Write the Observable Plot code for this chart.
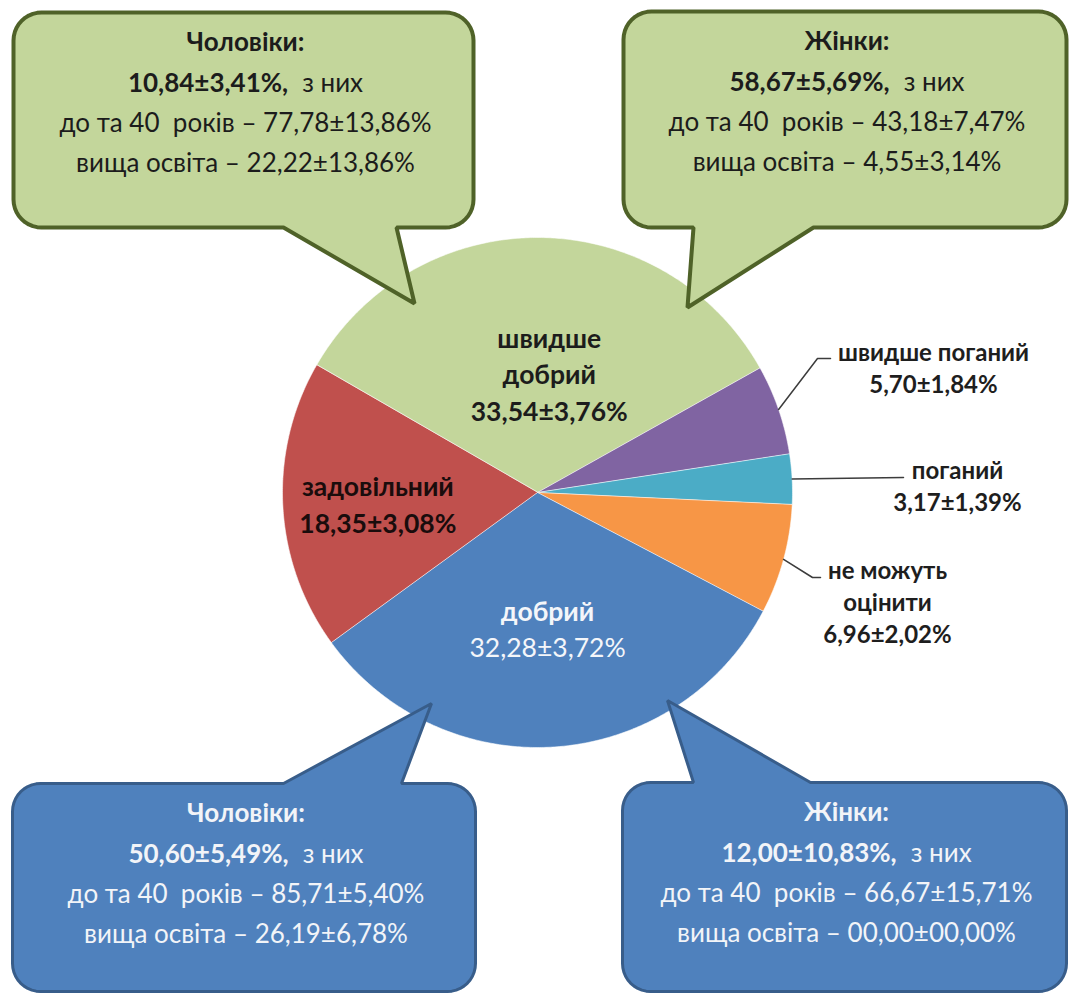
<!DOCTYPE html>
<html>
<head>
<meta charset="utf-8">
<script src="https://cdn.jsdelivr.net/npm/d3@7"></script>
<script src="https://cdn.jsdelivr.net/npm/@observablehq/plot@0.6"></script>
<style>
  html, body { margin: 0; padding: 0; background: #ffffff; }
  #chart svg { display: block; }
</style>
</head>
<body>
<div id="chart"></div>
<script>
// ---------------- DATA ----------------
const categories = ["швидше добрий", "швидше поганий", "поганий", "не можуть оцінити", "добрий", "задовільний"];
const shares = [33.54, 5.70, 3.17, 6.96, 32.28, 18.35];
const shareErrors = [3.76, 1.84, 1.39, 2.02, 3.72, 3.08];

const calloutGroups = ["Чоловіки:", "Жінки:", "Чоловіки:", "Жінки:"];
const calloutSlices = ["швидше добрий", "швидше добрий", "добрий", "добрий"];
const groupShares = [10.84, 58.67, 50.60, 12.00];
const groupShareErrors = [3.41, 5.69, 5.49, 10.83];
const under40Shares = [77.78, 43.18, 85.71, 66.67];
const under40Errors = [13.86, 7.47, 5.40, 15.71];
const higherEduShares = [22.22, 4.55, 26.19, 0.00];
const higherEduErrors = [13.86, 3.14, 6.78, 0.00];
const phrases = { ofThem: "з них", under40: "до та 40  років", higherEdu: "вища освіта" };

// ---------------- LAYOUT / STYLE ----------------
const W = 1070, H = 996;
const FONT = "Lato, 'Open Sans', 'Noto Sans', sans-serif";
const pie = { cx: 537, cy: 492, r: 255, start: -Math.PI / 3 };
const sliceColors = ["#c3d69b", "#8064a2", "#4bacc6", "#f79646", "#4f81bd", "#c0504d"];
const sliceTextColors = ["#1c1c1c", null, null, null, "#f4f6fa", "#1a0c0c"];
const labelWrap = [true, false, false, true, false, false];
// inside labels: radius factor + shift
const insideLabel = [
  { k: 0.457, dx: 11, dy: 0 }, null, null, null,
  { k: 0.543, dx: 0, dy: 0 },
  { k: 0.627, dx: 0, dy: 5 }
];
// outside labels: elbow, end of leader, text centre and first baseline
const outsideLabel = [
  null,
  { elbow: [817, 358], end: [830, 358], tx: 933, ty: 360 },
  { elbow: [903, 477], end: [903, 477], tx: 957, ty: 478 },
  { elbow: [812, 577], end: [820, 577], tx: 887, ty: 578 },
  null, null
];
const callBoxes = [
  { x0: 13, y0: 12, x1: 473, y1: 227, r: 28, side: "bottom", b0: 283, b1: 396, tip: [414, 303], fill: "#c3d69b", stroke: "#4f6228", sw: 4, text: "#1c1c1c" },
  { x0: 623, y0: 11, x1: 1066, y1: 227, r: 28, side: "bottom", b0: 693, b1: 813, tip: [687, 307], fill: "#c3d69b", stroke: "#4f6228", sw: 4, text: "#1c1c1c" },
  { x0: 12, y0: 783, x1: 475, y1: 991, r: 28, side: "top", b0: 283, b1: 401, tip: [431, 703], fill: "#4f81bd", stroke: "#385d8a", sw: 3, text: "#f2f4f8" },
  { x0: 622, y0: 782, x1: 1066, y1: 991, r: 28, side: "top", b0: 693, b1: 810, tip: [667, 700], fill: "#4f81bd", stroke: "#385d8a", sw: 3, text: "#f2f4f8" }
];
const calloutBaselines = [38, 79, 119, 159];
const CALL_SIZE = 26, IN_SIZE = 26.5, OUT_SIZE = 24, IN_LH = 36.5, OUT_LH = 32;

// ---------------- HELPERS ----------------
const fmt = v => v === 0 ? "00,00" : v.toFixed(2).replace(".", ",");
const pm = (v, e) => `${fmt(v)}±${fmt(e)}%`;
const ctx = document.createElement("canvas").getContext("2d");
function textWidth(s, size, weight) { ctx.font = `${weight} ${size}px ${FONT}`; return ctx.measureText(s).width; }
const polar = (a, rad) => [pie.cx + rad * Math.sin(a), pie.cy - rad * Math.cos(a)];
const wrapName = s => { const k = s.lastIndexOf(" "); return [s.slice(0, k), s.slice(k + 1)]; };

// ---------------- PIE GEOMETRY ----------------
const arcs = d3.pie().sort(null).startAngle(pie.start).endAngle(pie.start + 2 * Math.PI)(shares);
const slicePts = arcs.flatMap((a, i) => {
  const pts = [{ x: pie.cx, y: pie.cy, k: categories[i], c: sliceColors[i] }];
  const n = Math.max(4, Math.ceil((a.endAngle - a.startAngle) / (Math.PI / 360)));
  for (let j = 0; j <= n; ++j) {
    const t = a.startAngle + (a.endAngle - a.startAngle) * j / n;
    const [x, y] = polar(t, pie.r);
    pts.push({ x, y, k: categories[i], c: sliceColors[i] });
  }
  return pts;
});

// ---------------- CALLOUT GEOMETRY ----------------
function calloutOutline(b, id) {
  const pts = [];
  const arc = (cx, cy, a0, a1) => {
    for (let j = 0; j <= 10; ++j) {
      const t = (a0 + (a1 - a0) * j / 10) * Math.PI / 180;
      pts.push([cx + b.r * Math.cos(t), cy + b.r * Math.sin(t)]);
    }
  };
  pts.push([b.x0 + b.r, b.y0]);
  if (b.side === "top") { pts.push([b.b0, b.y0], b.tip, [b.b1, b.y0]); }
  arc(b.x1 - b.r, b.y0 + b.r, -90, 0);
  arc(b.x1 - b.r, b.y1 - b.r, 0, 90);
  if (b.side === "bottom") { pts.push([b.b1, b.y1], b.tip, [b.b0, b.y1]); }
  arc(b.x0 + b.r, b.y1 - b.r, 90, 180);
  arc(b.x0 + b.r, b.y0 + b.r, 180, 270);
  return pts.map(([x, y]) => ({ x, y, id }));
}

// ---------------- TEXT ITEMS ----------------
const texts = [];
callBoxes.forEach((b, i) => {
  const cx = (b.x0 + b.x1) / 2 + 2;
  const ys = calloutBaselines.map(d => b.y0 + d);
  texts.push({ x: cx, y: ys[0], text: calloutGroups[i], fill: b.text, weight: "bold", size: CALL_SIZE, anchor: "middle" });
  const boldPart = pm(groupShares[i], groupShareErrors[i]) + ",";
  const wb = textWidth(boldPart, CALL_SIZE, "bold");
  const wr = textWidth(phrases.ofThem, CALL_SIZE, "normal");
  const gap = 14;
  const left = cx - (wb + gap + wr) / 2;
  texts.push({ x: left, y: ys[1], text: boldPart, fill: b.text, weight: "bold", size: CALL_SIZE, anchor: "start" });
  texts.push({ x: left + wb + gap, y: ys[1], text: phrases.ofThem, fill: b.text, weight: "normal", size: CALL_SIZE, anchor: "start" });
  texts.push({ x: cx, y: ys[2], text: `${phrases.under40} – ${pm(under40Shares[i], under40Errors[i])}`, fill: b.text, weight: "normal", size: CALL_SIZE, anchor: "middle" });
  texts.push({ x: cx, y: ys[3], text: `${phrases.higherEdu} – ${pm(higherEduShares[i], higherEduErrors[i])}`, fill: b.text, weight: "normal", size: CALL_SIZE, anchor: "middle" });
});
const leaders = [];
arcs.forEach((a, i) => {
  const nameLines = labelWrap[i] ? wrapName(categories[i]) : [categories[i]];
  const lines = [...nameLines, pm(shares[i], shareErrors[i])];
  const mid = (a.startAngle + a.endAngle) / 2;
  if (insideLabel[i]) {
    const L = insideLabel[i];
    const [px, py] = polar(mid, L.k * pie.r);
    const first = py + L.dy - (lines.length - 1) * IN_LH / 2 + IN_SIZE * 0.32;
    lines.forEach((t, j) => {
      const isValue = j === lines.length - 1;
      const weight = (isValue && categories[i] === "добрий") ? "normal" : "bold";
      texts.push({ x: px + L.dx, y: first + j * IN_LH, text: t, fill: sliceTextColors[i], weight, size: IN_SIZE, anchor: "middle" });
    });
  } else {
    const L = outsideLabel[i];
    const [sx, sy] = polar(mid, pie.r);
    leaders.push({ x: sx, y: sy, id: i }, { x: L.elbow[0], y: L.elbow[1], id: i }, { x: L.end[0], y: L.end[1], id: i });
    lines.forEach((t, j) => {
      texts.push({ x: L.tx, y: L.ty + j * OUT_LH, text: t, fill: "#1e1e1e", weight: "bold", size: OUT_SIZE, anchor: "middle" });
    });
  }
});

// ---------------- PLOT ----------------
const groups = d3.groups(texts, d => `${d.weight}|${d.anchor}|${d.size}`);
const textMarks = groups.map(([key, items]) => {
  const [weight, anchor, size] = key.split("|");
  return Plot.text(items, {
    x: "x", y: "y", text: "text", fill: "fill",
    textAnchor: anchor, lineAnchor: "bottom",
    fontSize: +size, fontWeight: weight, fontFamily: FONT
  });
});

const chart = Plot.plot({
  width: W, height: H,
  marginTop: 0, marginRight: 0, marginBottom: 0, marginLeft: 0,
  x: { domain: [0, W], axis: null },
  y: { domain: [0, H], reverse: true, axis: null },
  color: { type: "identity" },
  style: { background: "#ffffff", overflow: "visible" },
  marks: [
    Plot.line(slicePts, { x: "x", y: "y", z: "k", fill: "c", stroke: "#ffffff", strokeOpacity: 0.55, strokeWidth: 1, curve: "linear-closed", strokeLinejoin: "round" }),
    ...callBoxes.map((b, i) => Plot.line(calloutOutline(b, i), {
      x: "x", y: "y", fill: b.fill, stroke: b.stroke, strokeWidth: b.sw, curve: "linear-closed", strokeLinejoin: "miter"
    })),
    Plot.line(leaders, { x: "x", y: "y", z: "id", stroke: "#3c3c3c", strokeWidth: 1.5 }),
    ...textMarks
  ]
});
document.getElementById("chart").appendChild(chart);
</script>
</body>
</html>
